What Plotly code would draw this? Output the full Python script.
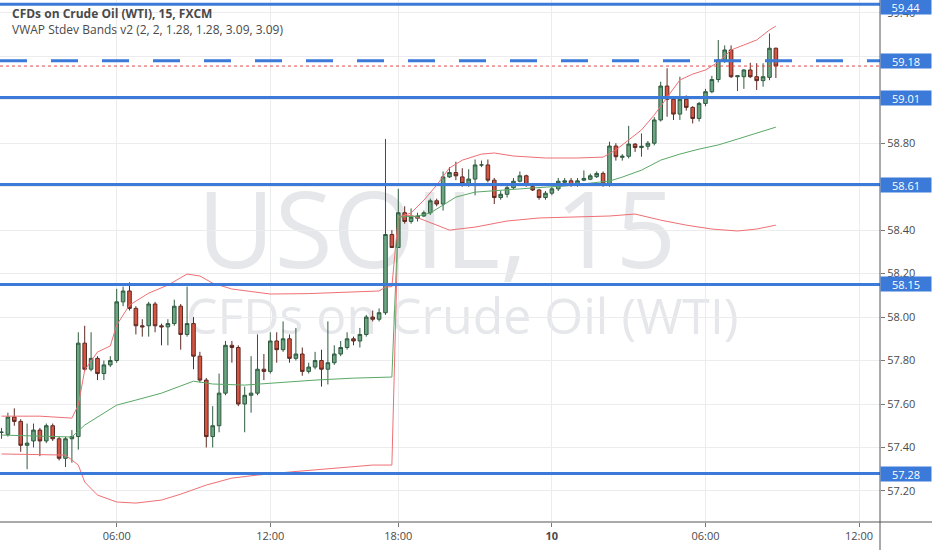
import plotly.graph_objects as go

# ---------------- data ----------------
opens = [57.47, 57.46, 57.54, 57.52, 57.41, 57.43, 57.48, 57.43, 57.50, 57.44,
         57.35, 57.44, 57.45, 57.88, 57.76, 57.81, 57.74, 57.78, 57.80, 58.07,
         58.12, 58.04, 57.96, 57.96, 58.06, 57.96, 57.955, 57.97, 58.05, 57.92,
         57.97, 57.82, 57.71, 57.45, 57.50, 57.65, 57.87, 57.86, 57.60, 57.64,
         57.65, 57.76, 57.75, 57.89, 57.85, 57.90, 57.81, 57.83, 57.75, 57.77,
         57.80, 57.76, 57.79, 57.83, 57.86, 57.90, 57.89, 57.92, 58.00, 57.99,
         58.02, 58.38, 58.32, 58.48, 58.44, 58.455, 58.465, 58.48, 58.535, 58.52,
         58.645, 58.665, 58.645, 58.615, 58.635, 58.70, 58.70, 58.63, 58.55, 58.565,
         58.595, 58.625, 58.65, 58.60, 58.585, 58.55, 58.57, 58.59, 58.62, 58.627,
         58.607, 58.63, 58.634, 58.646, 58.661, 58.612, 58.787, 58.735, 58.74, 58.796,
         58.78, 58.786, 58.80, 58.907, 59.063, 59.002, 58.934, 59.002, 58.965, 58.914,
         58.983, 59.037, 59.093, 59.183, 59.229, 59.106, 59.106, 59.137, 59.106, 59.088,
         59.103, 59.237]
highs = [57.49, 57.56, 57.58, 57.53, 57.51, 57.51, 57.49, 57.51, 57.51, 57.45,
         57.45, 57.48, 57.93, 57.96, 57.93, 57.82, 57.80, 57.82, 58.13, 58.14,
         58.16, 58.05, 57.99, 58.07, 58.07, 57.97, 57.99, 58.08, 58.06, 58.14,
         58.00, 57.84, 57.72, 57.59, 57.74, 57.89, 57.89, 57.87, 57.68, 57.82,
         57.92, 57.83, 57.93, 57.93, 57.98, 57.92, 57.95, 57.86, 57.79, 57.84,
         57.85, 57.98, 57.87, 57.89, 57.93, 57.91, 57.95, 58.01, 58.03, 58.04,
         58.82, 58.40, 58.59, 58.51, 58.50, 58.48, 58.49, 58.545, 58.545, 58.67,
         58.69, 58.715, 58.685, 58.68, 58.725, 58.72, 58.725, 58.64, 58.58, 58.61,
         58.64, 58.67, 58.655, 58.61, 58.59, 58.58, 58.60, 58.64, 58.64, 58.64,
         58.64, 58.675, 58.66, 58.67, 58.67, 58.807, 58.80, 58.75, 58.88, 58.80,
         58.845, 58.81, 58.92, 59.083, 59.145, 59.01, 59.106, 59.02, 58.97, 58.99,
         59.05, 59.11, 59.275, 59.25, 59.25, 59.11, 59.14, 59.17, 59.168, 59.168,
         59.305, 59.24]
lows = [57.44, 57.45, 57.50, 57.38, 57.30, 57.40, 57.36, 57.42, 57.43, 57.34,
        57.31, 57.33, 57.39, 57.75, 57.75, 57.71, 57.71, 57.77, 57.79, 58.05,
        58.03, 57.92, 57.91, 57.91, 57.93, 57.87, 57.87, 57.96, 57.85, 57.91,
        57.76, 57.70, 57.40, 57.40, 57.47, 57.64, 57.79, 57.59, 57.47, 57.56,
        57.64, 57.71, 57.74, 57.79, 57.84, 57.79, 57.80, 57.73, 57.74, 57.76,
        57.68, 57.69, 57.78, 57.82, 57.85, 57.87, 57.86, 57.91, 57.98, 57.98,
        58.01, 58.32, 58.32, 58.43, 58.43, 58.44, 58.46, 58.47, 58.51, 58.49,
        58.64, 58.63, 58.60, 58.60, 58.56, 58.69, 58.62, 58.52, 58.54, 58.55,
        58.59, 58.62, 58.60, 58.58, 58.54, 58.54, 58.56, 58.58, 58.61, 58.60,
        58.60, 58.625, 58.63, 58.64, 58.60, 58.60, 58.72, 58.72, 58.73, 58.76,
        58.738, 58.77, 58.79, 58.90, 58.922, 58.907, 58.907, 58.95, 58.891, 58.90,
        58.97, 59.03, 59.08, 59.17, 59.10, 59.04, 59.05, 59.10, 59.045, 59.06,
        59.09, 59.10]
closes = [57.47, 57.54, 57.52, 57.41, 57.42, 57.48, 57.43, 57.50, 57.44, 57.35,
          57.44, 57.45, 57.88, 57.76, 57.81, 57.74, 57.78, 57.80, 58.07, 58.12,
          58.04, 57.96, 57.955, 58.06, 57.96, 57.955, 57.97, 58.05, 57.92, 57.97,
          57.82, 57.71, 57.45, 57.50, 57.65, 57.87, 57.86, 57.60, 57.64, 57.65,
          57.76, 57.75, 57.89, 57.85, 57.90, 57.81, 57.83, 57.75, 57.77, 57.80,
          57.76, 57.79, 57.83, 57.86, 57.90, 57.89, 57.92, 58.00, 57.99, 58.02,
          58.38, 58.32, 58.48, 58.44, 58.46, 58.465, 58.48, 58.535, 58.52, 58.645,
          58.665, 58.65, 58.615, 58.635, 58.70, 58.70, 58.63, 58.55, 58.565, 58.595,
          58.625, 58.65, 58.61, 58.585, 58.55, 58.57, 58.59, 58.625, 58.627, 58.607,
          58.627, 58.638, 58.65, 58.661, 58.612, 58.787, 58.738, 58.74, 58.796, 58.78,
          58.786, 58.80, 58.907, 59.063, 59.002, 58.934, 59.002, 58.965, 58.914, 58.983,
          59.037, 59.093, 59.183, 59.229, 59.106, 59.11, 59.137, 59.106, 59.088, 59.106,
          59.237, 59.155]

# VWAP + bands (session 1 and session 2) at bar indices
vwap1_idx = [0, 5, 11, 13, 15, 18, 21, 25, 30, 33, 38, 44, 49, 55, 61]
vwap1 = [57.457, 57.452, 57.448, 57.503, 57.540, 57.595, 57.618, 57.650, 57.705,
         57.692, 57.687, 57.701, 57.710, 57.719, 57.724]
upper1_idx = [0, 6, 11, 12, 13, 15, 17, 18, 20, 23, 26, 29, 31, 33, 36, 42, 48, 54, 59, 60, 61]
upper1 = [57.544, 57.544, 57.535, 57.595, 57.756, 57.839, 57.867, 57.963, 58.055, 58.110,
          58.147, 58.198, 58.189, 58.156, 58.129, 58.106, 58.108, 58.115, 58.120, 58.138, 58.140]
lower1_idx = [0, 6, 10, 12, 13, 15, 18, 21, 25, 28, 32, 36, 40, 45, 52, 58, 61]
lower1 = [57.370, 57.365, 57.365, 57.319, 57.241, 57.181, 57.149, 57.144, 57.158, 57.185,
          57.227, 57.259, 57.273, 57.287, 57.305, 57.319, 57.319]

vwap2_idx = [62, 65, 67, 69, 71, 74, 78, 83, 88, 93, 95, 97, 100, 103, 106, 109, 112, 115, 118, 121]
vwap2 = [58.460, 58.465, 58.479, 58.515, 58.552, 58.575, 58.584, 58.594, 58.603, 58.617,
         58.626, 58.644, 58.676, 58.722, 58.750, 58.773, 58.792, 58.819, 58.847, 58.874]
upper2_idx = [62, 64, 66, 68, 70, 72, 75, 77, 80, 85, 90, 94, 96, 98, 100, 102, 104, 106,
              108, 110, 112, 114, 116, 118, 120, 121]
upper2 = [58.460, 58.479, 58.538, 58.607, 58.686, 58.722, 58.750, 58.755, 58.741, 58.732,
          58.732, 58.736, 58.769, 58.815, 58.861, 58.930, 59.012, 59.091, 59.118, 59.137,
          59.173, 59.229, 59.252, 59.275, 59.321, 59.339]
lower2_idx = [62, 64, 67, 70, 74, 79, 84, 90, 95, 99, 103, 107, 111, 115, 118, 121]
lower2 = [58.460, 58.469, 58.433, 58.400, 58.414, 58.442, 58.456, 58.460, 58.465, 58.474,
          58.446, 58.423, 58.405, 58.396, 58.405, 58.423]

# x-axis ticks (bar index of 15-min bars)
tick_idx = [18, 42, 62, 86, 110, 134]
tick_text = ["06:00", "12:00", "18:00", "<b>10</b>", "06:00", "12:00"]

# price-axis ticks (those covered by level labels are left blank)
price_ticks = [57.2, 57.4, 57.6, 57.8, 58.0, 58.2, 58.4, 58.6, 58.8, 59.0, 59.2, 59.4]
price_text = ["57.20", "57.40", "57.60", "57.80", "58.00", "58.20", "58.40", "", "58.80", "", "", "59.40"]

# horizontal levels
solid_levels = [59.44, 59.01, 58.61, 58.15, 57.28]
dashed_level = 59.18
last_price = 59.155
label_levels = [59.44, 59.18, 59.01, 58.61, 58.15, 57.28]

title_line1 = "CFDs on Crude Oil (WTI), 15, FXCM"
title_line2 = "VWAP Stdev Bands v2 (2, 2, 1.28, 1.28, 3.09, 3.09)"
watermark1 = "USOIL, 15"
watermark2 = "CFDs on Crude Oil (WTI)"

# ---------------- figure ----------------
BLUE = "#3b7ad9"
FONT = "Open Sans"
bars = list(range(len(opens)))

fig = go.Figure()
fig.add_trace(go.Candlestick(
    x=bars, open=opens, high=highs, low=lows, close=closes,
    increasing=dict(line=dict(color="#2f5a3e", width=1), fillcolor="#6ba583"),
    decreasing=dict(line=dict(color="#5b2a22", width=1), fillcolor="#d75442"),
    whiskerwidth=0, hoverinfo="skip", showlegend=False,
))

band_red = "#ef6f74"
fig.add_trace(go.Scatter(x=upper1_idx + upper2_idx, y=upper1 + upper2, mode="lines",
                         line=dict(color=band_red, width=1), hoverinfo="skip", showlegend=False))
fig.add_trace(go.Scatter(x=lower1_idx + lower2_idx, y=lower1 + lower2, mode="lines",
                         line=dict(color=band_red, width=1), hoverinfo="skip", showlegend=False))
fig.add_trace(go.Scatter(x=vwap1_idx + vwap2_idx, y=vwap1 + vwap2, mode="lines",
                         line=dict(color="#5aa866", width=1), hoverinfo="skip", showlegend=False))

shapes = []
# watermark (below traces)
shapes.append(dict(type="rect", xref="x", yref="y", x0=67.5, x1=68.5, y0=58.37, y1=58.39,
                   line=dict(width=0), fillcolor="rgba(0,0,0,0)", layer="below",
                   label=dict(text=watermark1, font=dict(size=106, color="#e6e7ea", family=FONT),
                              textposition="middle center")))
shapes.append(dict(type="rect", xref="x", yref="y", x0=71.5, x1=72.5, y0=57.985, y1=58.005,
                   line=dict(width=0), fillcolor="rgba(0,0,0,0)", layer="below",
                   label=dict(text=watermark2, font=dict(size=50, color="#e6e7ea", family=FONT),
                              textposition="middle center")))
# last price dotted line
shapes.append(dict(type="line", xref="paper", yref="y", x0=0, x1=1, y0=last_price, y1=last_price,
                   line=dict(color="#e04848", width=1, dash="dot")))
for lv in solid_levels:
    shapes.append(dict(type="line", xref="paper", yref="y", x0=0, x1=1, y0=lv, y1=lv,
                       line=dict(color=BLUE, width=3)))
shapes.append(dict(type="line", xref="paper", yref="y", x0=0, x1=1, y0=dashed_level, y1=dashed_level,
                   line=dict(color=BLUE, width=3, dash="27px,24px")))
# axis frame lines
shapes.append(dict(type="line", xref="paper", yref="paper", x0=1, x1=1, y0=-0.06, y1=1,
                   line=dict(color="#555555", width=1)))
shapes.append(dict(type="line", xref="paper", yref="paper", x0=0, x1=1.06, y0=0, y1=0,
                   line=dict(color="#555555", width=1)))

annotations = [
    dict(text="<b>" + title_line1 + "</b>", xref="paper", yref="paper", x=0.011, y=0.975,
         xanchor="left", yanchor="middle", showarrow=False,
         font=dict(size=12, color="#4a4a4a", family=FONT)),
    dict(text=title_line2, xref="paper", yref="paper", x=0.011, y=0.943,
         xanchor="left", yanchor="middle", showarrow=False,
         font=dict(size=12, color="#4a4a4a", family=FONT)),
]
for lv in label_levels:
    annotations.append(dict(text=f"{lv:.2f}", xref="paper", yref="y", x=1, y=lv,
                            xanchor="left", yanchor="middle", showarrow=False,
                            yshift=-3 if lv == max(label_levels) else 0,
                            bgcolor=BLUE, width=50, height=14, borderpad=0, align="center",
                            font=dict(size=11, color="white", family=FONT)))

fig.update_layout(
    width=932, height=550,
    margin=dict(l=0, r=52, t=0, b=28, pad=0),
    paper_bgcolor="white", plot_bgcolor="white",
    shapes=shapes, annotations=annotations,
    boxgap=0.2,
    xaxis=dict(range=[-0.234, 137.27], tickmode="array", tickvals=tick_idx, ticktext=tick_text,
               showgrid=True, gridcolor="#ececee", gridwidth=1, zeroline=False,
               ticks="outside", ticklen=4, tickcolor="#777777",
               tickfont=dict(size=11, color="#4a4a4a", family=FONT),
               rangeslider=dict(visible=False), fixedrange=True, showline=False),
    yaxis=dict(range=[57.057, 59.459], side="right", tickmode="array",
               tickvals=price_ticks, ticktext=price_text,
               showgrid=True, gridcolor="#ececee", gridwidth=1, zeroline=False,
               ticks="outside", ticklen=4, tickcolor="#777777",
               tickfont=dict(size=11, color="#4a4a4a", family=FONT),
               fixedrange=True, showline=False),
    showlegend=False,
)

fig.write_html("out.html", config={"displayModeBar": False},
               post_script="document.body.style.margin='0px';")
